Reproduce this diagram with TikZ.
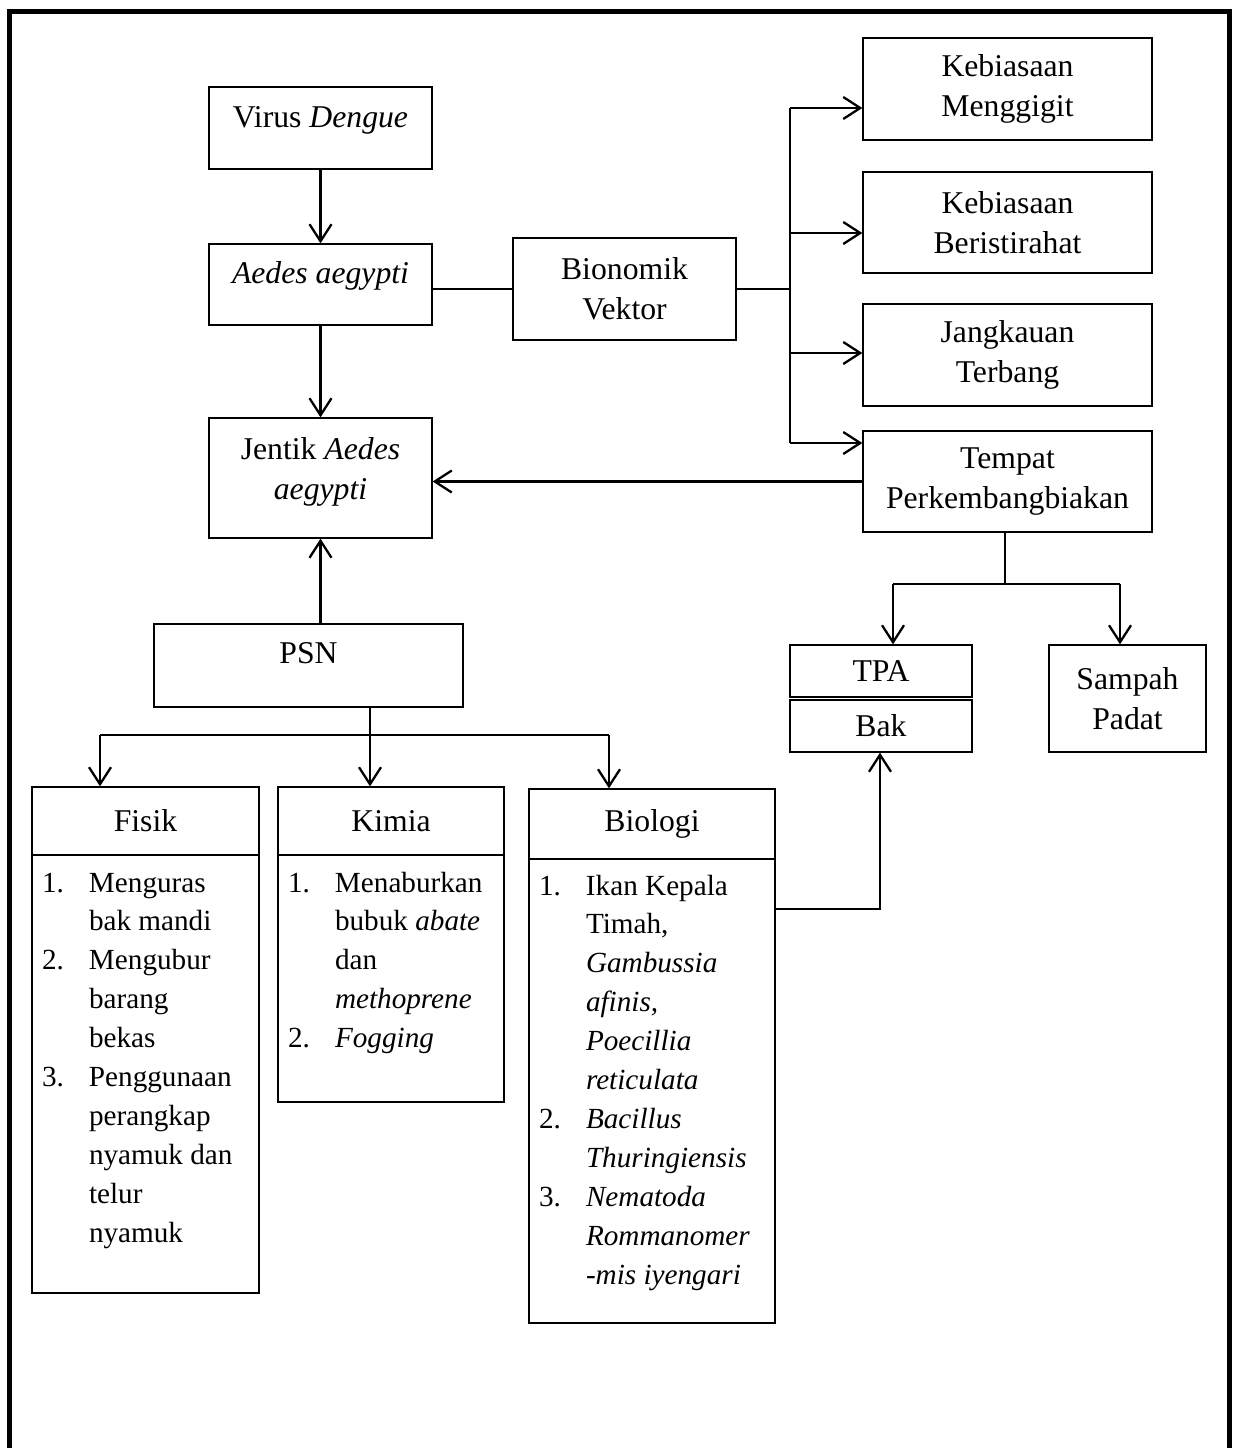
\documentclass[tikz,border=0pt]{standalone}
\usepackage{fontspec}
\setmainfont{Liberation Serif}
\usetikzlibrary{arrows.meta}

\tikzset{
  box/.style={draw, line width=1.3pt, align=center, inner sep=0pt, font=\fontsize{31.7}{40}\selectfont},
  listbox/.style={draw, line width=1.3pt, inner xsep=10pt, inner ysep=0pt, font=\fontsize{29.2}{38.9}\selectfont},
  conn/.style={line width=2.3pt},
  connarr/.style={line width=2.3pt, -{Straight Barb[length=17pt,width=22pt]}}
}

\begin{document}
\begin{tikzpicture}[x=1pt,y=-1pt]
\useasboundingbox (0,0) rectangle (1233,1448);
\draw[line width=4.5pt] (9.5,1460) -- (9.5,11.5) -- (1229.5,11.5) -- (1229.5,1460);

% left column
\node[box, minimum width=223pt, text height=40pt, text depth=42pt] (virus) at (320.5,128) {Virus \textit{Dengue}};
\node[box, minimum width=223pt, text height=39pt, text depth=42pt] (aedes) at (320.5,284.5) {\textit{Aedes aegypti}};
\node[box, minimum width=223pt, minimum height=120pt] (jentik) at (320.5,478) {Jentik \textit{Aedes}\\\textit{aegypti}\rule[-20pt]{0pt}{20pt}};
\node[box, minimum width=223pt, minimum height=102pt] (bionomik) at (624.5,289) {Bionomik\\Vektor};
\node[box, minimum width=309pt, text height=39pt, text depth=44pt] (psn) at (308.5,665.5) {PSN};

% right column
\node[box, minimum width=289pt, minimum height=102pt] (gigit) at (1007.5,89) {Kebiasaan\\Menggigit};
\node[box, minimum width=289pt, minimum height=101pt] (istirahat) at (1007.5,222.5) {Kebiasaan\\Beristirahat};
\node[box, minimum width=289pt, minimum height=102pt] (terbang) at (1007.5,355) {Jangkauan\\Terbang};
\node[box, minimum width=289pt, minimum height=101pt] (tempat) at (1007.5,481.5) {Tempat\\Perkembangbiakan};
\node[box, minimum width=182pt, minimum height=52pt] (tpa) at (881,671) {TPA};
\node[box, minimum width=182pt, minimum height=52pt] (bak) at (881,726) {Bak};
\node[box, minimum width=157pt, minimum height=107pt] (sampah) at (1127.5,698.5) {Sampah\\Padat};

% PSN methods
\node[box, minimum width=227pt, minimum height=68pt] (fisik) at (145.5,821) {Fisik};
\node[listbox, text height=37pt, text depth=401pt] (fisikisi) at (145.5,1074) {%
\begin{tabular}[t]{@{}p{47pt}@{}p{160pt}@{}}
1. & Menguras\\
   & bak mandi\\
2. & Mengubur\\
   & barang\\
   & bekas\\
3. & Penggunaan\\
   & perangkap\\
   & nyamuk dan\\
   & telur\\
   & nyamuk
\end{tabular}};
\node[box, minimum width=226pt, minimum height=68pt] (kimia) at (391,821) {Kimia};
\node[listbox, text height=37pt, text depth=210pt] (kimiaisi) at (391,978.5) {%
\begin{tabular}[t]{@{}p{47pt}@{}p{159pt}@{}}
1. & Menaburkan\\
   & bubuk \textit{abate}\\
   & dan\\
   & \textit{methoprene}\\
2. & \textit{Fogging}
\end{tabular}};
\node[box, minimum width=246pt, minimum height=70pt] (biologi) at (652,824) {Biologi};
\node[listbox, text height=36pt, text depth=428pt] (biologiisi) at (652,1091) {%
\begin{tabular}[t]{@{}p{47pt}@{}p{179pt}@{}}
1. & Ikan Kepala\\
   & Timah,\\
   & \textit{Gambussia}\\
   & \textit{afinis,}\\
   & \textit{Poecillia}\\
   & \textit{reticulata}\\
2. & \textit{Bacillus}\\
   & \textit{Thuringiensis}\\
3. & \textit{Nematoda}\\
   & \textit{Rommanomer}\\
   & \textit{-mis iyengari}
\end{tabular}};

% junction points
\coordinate (k1) at (790,108);
\coordinate (k2) at (790,233);
\coordinate (k3) at (790,353);
\coordinate (k4) at (790,443);
\coordinate (tsplit) at (1005,584);
\coordinate (ttpa) at (893,584);
\coordinate (tsampah) at (1120,584);
\coordinate (psplit) at (370,735);
\coordinate (pfisik) at (100,735);
\coordinate (pbiologi) at (609,735);
\coordinate (bturn) at (880,909);

\draw[connarr] (virus) -- (aedes);
\draw[connarr] (aedes) -- (jentik);
\draw[connarr] (psn.north -| jentik) -- (jentik);
\draw[conn] (aedes.east |- bionomik) -- (bionomik);
\draw[conn] (bionomik.east) -- (bionomik.east -| k1);
\draw[conn] (k1) -- (k4);
\draw[connarr] (k1) -- (k1 -| gigit.west);
\draw[connarr] (k2) -- (k2 -| istirahat.west);
\draw[connarr] (k3) -- (k3 -| terbang.west);
\draw[connarr] (k4) -- (k4 -| tempat.west);
\draw[connarr] (tempat) -- (tempat -| jentik.east);

\draw[conn] (tempat.south -| tsplit) -- (tsplit);
\draw[conn] (ttpa) -- (tsampah);
\draw[connarr] (ttpa) -- (ttpa |- tpa.north);
\draw[connarr] (tsampah) -- (tsampah |- sampah.north);

\draw[conn] (psn.south -| psplit) -- (psplit);
\draw[conn] (pfisik) -- (pbiologi);
\draw[connarr] (pfisik) -- (pfisik |- fisik.north);
\draw[connarr] (psplit) -- (psplit |- kimia.north);
\draw[connarr] (pbiologi) -- (pbiologi |- biologi.north);

\draw[connarr] (biologiisi.east |- bturn) -- (bturn) -- (bturn |- bak.south);
\end{tikzpicture}
\end{document}
